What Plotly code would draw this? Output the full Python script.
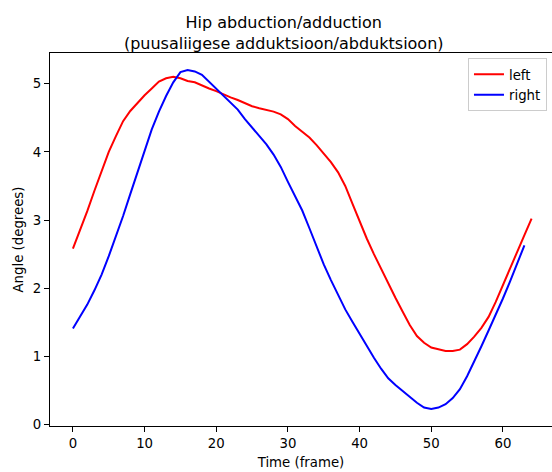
import plotly.graph_objects as go

left_y = [2.58, 2.85, 3.13, 3.43, 3.72, 4.00, 4.23, 4.45, 4.60, 4.72,
          4.83, 4.93, 5.03, 5.08, 5.10, 5.08, 5.04, 5.02, 4.97, 4.93,
          4.89, 4.84, 4.80, 4.76, 4.71, 4.67, 4.64, 4.62, 4.59, 4.55,
          4.48, 4.38, 4.30, 4.21, 4.10, 3.97, 3.85, 3.70, 3.50, 3.24,
          2.98, 2.73, 2.50, 2.28, 2.06, 1.86, 1.66, 1.46, 1.30, 1.20,
          1.13, 1.10, 1.08, 1.08, 1.10, 1.18, 1.29, 1.42, 1.58, 1.80,
          2.05, 2.30, 2.54, 2.78, 3.02]
right_y = [1.41, 1.58, 1.76, 1.97, 2.20, 2.47, 2.76, 3.06, 3.38, 3.70,
           4.02, 4.33, 4.59, 4.82, 5.02, 5.17, 5.20, 5.18, 5.13, 5.03,
           4.93, 4.83, 4.72, 4.62, 4.48, 4.36, 4.23, 4.11, 3.96, 3.78,
           3.56, 3.36, 3.14, 2.88, 2.60, 2.35, 2.12, 1.90, 1.69, 1.51,
           1.33, 1.16, 0.98, 0.82, 0.68, 0.58, 0.49, 0.40, 0.32, 0.25,
           0.23, 0.25, 0.30, 0.39, 0.52, 0.71, 0.92, 1.15, 1.38, 1.61,
           1.85, 2.10, 2.36, 2.63]
left_x = list(range(len(left_y)))
right_x = list(range(len(right_y)))

x_ticks = [0, 10, 20, 30, 40, 50, 60]
y_ticks = [0, 1, 2, 3, 4, 5]

FONT = "DejaVu Sans"

fig = go.Figure()
fig.add_trace(go.Scatter(x=left_x, y=left_y, mode="lines", name="left",
                         line=dict(color="#ff0000", width=2)))
fig.add_trace(go.Scatter(x=right_x, y=right_y, mode="lines", name="right",
                         line=dict(color="#0000ff", width=2)))

fig.update_layout(
    width=552, height=472,
    margin=dict(l=50, r=0, t=53, b=45.5),
    plot_bgcolor="white", paper_bgcolor="white",
    font=dict(family=FONT, size=13.3, color="black"),
    title=dict(text="Hip abduction/adduction<br>(puusaliigese adduktsioon/abduktsioon)",
               x=0.514, xref="container", xanchor="center",
               y=0.94, yref="container", yanchor="top",
               font=dict(family=FONT, size=16, color="black")),
    showlegend=True,
    legend=dict(x=0.99, xanchor="right", y=0.986, yanchor="top",
                bgcolor="white", bordercolor="#cccccc", borderwidth=1,
                font=dict(family=FONT, size=13.3, color="black"),
                itemwidth=30),
)
fig.update_xaxes(range=[-3.2, 66.85], tickvals=x_ticks,
                 showgrid=False, zeroline=False,
                 showline=True, linecolor="black", linewidth=1, mirror=True,
                 ticks="outside", ticklen=5, tickcolor="black",
                 title=dict(text="Time (frame)", standoff=7,
                            font=dict(family=FONT, size=13.3)))
fig.update_yaxes(range=[-0.02, 5.45], tickvals=y_ticks,
                 showgrid=False, zeroline=False,
                 showline=True, linecolor="black", linewidth=1,
                 ticks="outside", ticklen=5, tickcolor="black",
                 title=dict(text="Angle (degrees)", standoff=6,
                            font=dict(family=FONT, size=13.3)))

fig.write_html("out.html")
